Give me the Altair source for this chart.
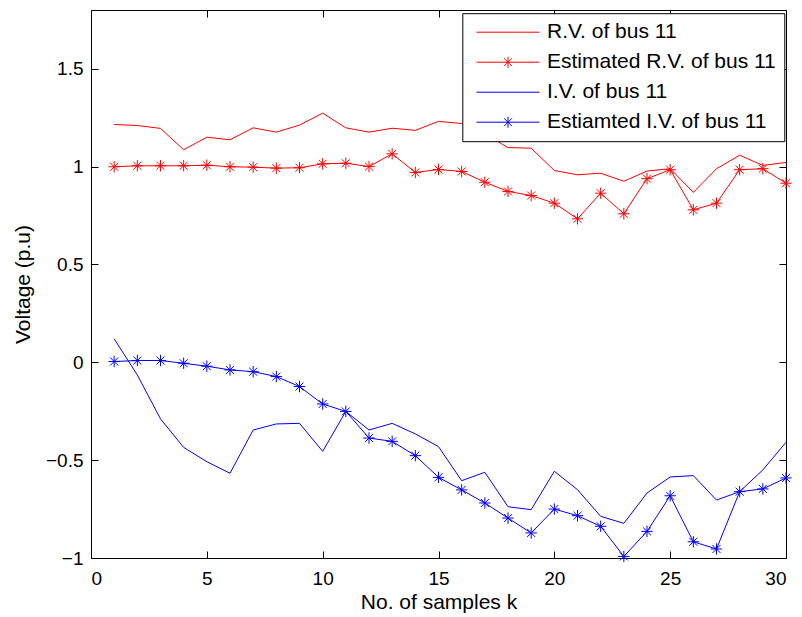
import altair as alt
import pandas as pd

k = list(range(1, 31))
rv = [1.215, 1.21, 1.195, 1.086, 1.150, 1.137, 1.198, 1.176, 1.212, 1.273,
      1.198, 1.176, 1.196, 1.185, 1.231, 1.22, 1.167, 1.097, 1.094, 0.980,
      0.958, 0.966, 0.925, 0.977, 0.989, 0.868, 0.989, 1.058, 1.006, 1.021]
est_rv = [0.999, 1.004, 1.004, 1.004, 1.007, 0.999, 0.997, 0.992, 0.994, 1.014,
          1.017, 1.0, 1.065, 0.970, 0.985, 0.975, 0.920, 0.873, 0.852, 0.813,
          0.733, 0.864, 0.759, 0.938, 0.984, 0.779, 0.813, 0.984, 0.989, 0.915]
iv = [0.120, -0.065, -0.289, -0.435, -0.508, -0.567, -0.346, -0.315, -0.312, -0.455,
      -0.251, -0.346, -0.312, -0.366, -0.431, -0.605, -0.562, -0.738, -0.753, -0.557,
      -0.651, -0.787, -0.823, -0.668, -0.586, -0.579, -0.704, -0.661, -0.550, -0.409]
est_iv = [0.004, 0.009, 0.009, -0.005, -0.020, -0.039, -0.048, -0.073, -0.124, -0.213,
          -0.251, -0.387, -0.404, -0.477, -0.588, -0.652, -0.719, -0.796, -0.872, -0.750,
          -0.784, -0.838, -0.992, -0.864, -0.682, -0.917, -0.954, -0.661, -0.647, -0.591]

series_names = ["R.V. of bus 11", "Estimated R.V. of bus 11",
                "I.V. of bus 11", "Estiamted I.V. of bus 11"]
series_colors = ["#ff0000", "#ff0000", "#0000ff", "#0000ff"]
has_marker = [False, True, False, True]
x_ticks = [0, 5, 10, 15, 20, 25, 30]
y_ticks = [-1, -0.5, 0, 0.5, 1, 1.5]

rows = []
for name, vals, mk, col in zip(series_names, [rv, est_rv, iv, est_iv],
                               has_marker, series_colors):
    for kk, v in zip(k, vals):
        rows.append({"k": kk, "v": v, "series": name, "marker": mk, "col": col})
df = pd.DataFrame(rows)

STAR = "M0,-1V1M-1,0H1M-0.7,-0.7L0.7,0.7M-0.7,0.7L0.7,-0.7"
LEG_LINE = "M-5.25,0H5.25"
LEG_STAR = "M-5.25,0H5.25M0,-0.92V0.92M-0.65,-0.65L0.65,0.65M-0.65,0.65L0.65,-0.65"

FONT = "Liberation Sans"
xscale = alt.Scale(domain=[0, 30], nice=False, zero=False)
yscale = alt.Scale(domain=[-1, 1.8], nice=False, zero=False)

x_main = alt.X("k:Q", scale=xscale, axis=alt.Axis(
    values=x_ticks, orient="bottom", offset=-7, tickSize=7, labelPadding=11,
    domain=False, grid=False, title="No. of samples k", titlePadding=3,
    labelFont=FONT, labelFontSize=19, titleFont=FONT, titleFontSize=21,
    titleFontWeight="normal", labelColor="black", titleColor="black",
    tickColor="black", format="d"))
y_main = alt.Y("v:Q", scale=yscale, axis=alt.Axis(
    values=y_ticks, orient="left", offset=-7, tickSize=7, labelPadding=8,
    domain=False, grid=False, title="Voltage (p.u)", titlePadding=12,
    labelFont=FONT, labelFontSize=19, titleFont=FONT, titleFontSize=21,
    titleFontWeight="normal", labelColor="black", titleColor="black",
    tickColor="black", format="~g"))

lines = alt.Chart(df).mark_line(strokeWidth=1).encode(
    x=x_main, y=y_main,
    color=alt.Color("col:N", scale=None),
    detail="series:N",
    order="k:Q",
)

points = alt.Chart(df).transform_filter("datum.marker").mark_point(
    shape=STAR, filled=False, strokeWidth=1, size=130, opacity=1
).encode(
    x=alt.X("k:Q", scale=xscale, axis=alt.Axis(
        values=x_ticks, orient="top", offset=-7, tickSize=7, labels=False,
        domain=False, grid=False, title=None, tickColor="black")),
    y=alt.Y("v:Q", scale=yscale, axis=alt.Axis(
        values=y_ticks, orient="right", offset=-7, tickSize=7, labels=False,
        domain=False, grid=False, title=None, tickColor="black")),
    color=alt.Color("col:N", scale=None),
)

leg = alt.Legend(
    title=None, orient="none", legendX=371.3, legendY=3.2,
    padding=8.5, fillColor="white", strokeColor="black", cornerRadius=0,
    labelFont=FONT, labelFontSize=21, labelColor="black", labelLimit=400,
    rowPadding=8, symbolOffset=26.7, labelOffset=28.5,
    symbolStrokeWidth=1, symbolSize=144, symbolOpacity=1)

legend_layer = alt.Chart(df).transform_filter("datum.k == 1").mark_point(
    filled=False, strokeWidth=1, size=144, opacity=0
).encode(
    x=alt.X("k:Q", scale=xscale, axis=None),
    y=alt.Y("v:Q", scale=yscale, axis=None),
    color=alt.Color("series:N", scale=alt.Scale(
        domain=series_names, range=series_colors), legend=leg),
    shape=alt.Shape("series:N", scale=alt.Scale(
        domain=series_names,
        range=[LEG_LINE, LEG_STAR, LEG_LINE, LEG_STAR]), legend=leg),
)

chart = alt.layer(lines, points, legend_layer).resolve_axis(
    x="independent", y="independent"
).resolve_scale(
    color="independent", shape="independent"
).properties(
    width=695, height=548,
    padding={"left": 91, "top": 10, "right": 16, "bottom": 59},
    autosize=alt.AutoSizeParams(type="none"),
    background="white",
).configure_view(stroke="black", strokeWidth=1)

chart.save("out.html", embed_options={"renderer": "svg", "actions": False})
